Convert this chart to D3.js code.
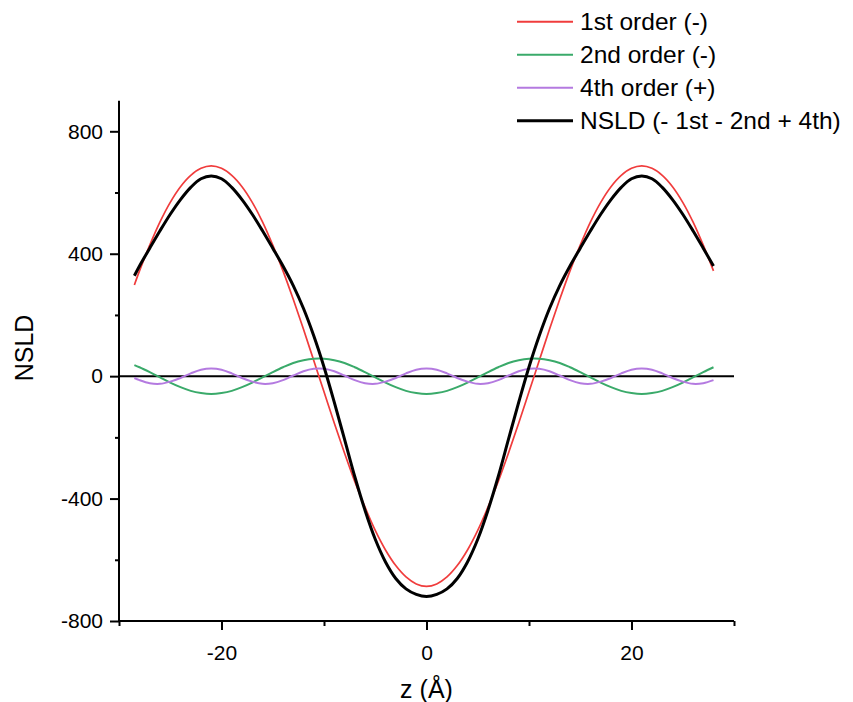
<!DOCTYPE html>
<html>
<head>
<meta charset="utf-8">
<script src="https://cdn.jsdelivr.net/npm/d3@7"></script>
<style>
  html, body { margin: 0; padding: 0; background: #fff; }
  svg { display: block; font-family: "Liberation Sans", Arial, sans-serif; }
</style>
</head>
<body>
<svg id="chart" width="853" height="702"></svg>
<script>
// ---- data ----
const z = [-28.5, -28, -27, -26, -25, -24, -23, -22, -21, -20, -19, -18, -17, -16, -15, -14, -13, -12, -11, -10,
  -9, -8, -7, -6, -5, -4, -3, -2, -1, 0, 1, 2, 3, 4, 5, 6, 7, 8, 9, 10,
  11, 12, 13, 14, 15, 16, 17, 18, 19, 20, 21, 22, 23, 24, 25, 26, 27, 28];

const first = [298, 344, 428, 504, 568, 619, 656, 679, 687, 679, 656, 619, 568, 504, 428, 344, 251, 153, 51, -51,
  -153, -251, -344, -428, -504, -568, -619, -656, -679, -687, -679, -656, -619, -568, -504, -428, -344, -251, -153, -51,
  51, 153, 251, 344, 428, 504, 568, 619, 656, 679, 687, 679, 656, 619, 568, 504, 428, 344];

const second = [36, 29, 13, -4, -21, -36, -48, -55, -58, -55, -48, -36, -21, -4, 13, 29, 43, 52, 57, 57,
  52, 43, 29, 13, -4, -21, -36, -48, -55, -58, -55, -48, -36, -21, -4, 13, 29, 43, 52, 57,
  57, 52, 43, 29, 13, -4, -21, -36, -48, -55, -58, -55, -48, -36, -21, -4, 13, 29];

const fourth = [-6, -13, -23, -25, -18, -6, 9, 21, 25, 21, 9, -6, -18, -25, -23, -13, 2, 16, 24, 24,
  16, 2, -13, -23, -25, -18, -6, 9, 21, 25, 21, 9, -6, -18, -25, -23, -13, 2, 16, 24,
  24, 16, 2, -13, -23, -25, -18, -6, 9, 21, 25, 21, 9, -6, -18, -25, -23, -13];

const nsld = [328, 360, 418, 475, 529, 577, 617, 645, 654, 645, 617, 577, 529, 475, 418, 360, 296, 221, 132, 30,
  -85, -206, -328, -438, -533, -607, -661, -695, -713, -720, -713, -695, -661, -607, -533, -438, -328, -206, -85, 30,
  132, 221, 296, 360, 418, 475, 529, 577, 617, 645, 654, 645, 617, 577, 529, 475, 418, 360];

const seriesNames = ["1st order (-)", "2nd order (-)", "4th order (+)", "NSLD (- 1st - 2nd + 4th)"];
const seriesValues = [first, second, fourth, nsld];
const seriesColors = ["#f03c3c", "#3aaa6a", "#b47ae0", "#000000"];
const seriesWidths = [1.7, 2, 2, 3];

const xDomain = [-30, 30];
const yDomain = [-800, 900];
const xMajorTicks = [-20, 0, 20];
const xMinorTicks = [-30, -10, 10, 30];
const yMajorTicks = [-800, -400, 0, 400, 800];
const yMinorTicks = [-600, -200, 200, 600];
const xLabel = "z (Å)";
const yLabel = "NSLD";

// ---- drawing ----
const svg = d3.select("#chart");
const x = d3.scaleLinear().domain(xDomain).range([119, 734]);
const y = d3.scaleLinear().domain(yDomain).range([621, 100.7]);

// zero line
svg.append("line")
  .attr("x1", x(xDomain[0])).attr("x2", x(xDomain[1]))
  .attr("y1", y(0)).attr("y2", y(0))
  .attr("stroke", "#000").attr("stroke-width", 2);

// series
const line = d3.line().curve(d3.curveCatmullRom.alpha(0.5));
seriesValues.forEach((vals, i) => {
  svg.append("path")
    .attr("d", line(z.map((zz, k) => [x(zz), y(vals[k])])))
    .attr("fill", "none")
    .attr("stroke", seriesColors[i])
    .attr("stroke-width", seriesWidths[i])
    .attr("stroke-linejoin", "round");
});

const fmt = d => String(d);

// x axis
const xAxis = svg.append("g").attr("transform", `translate(0,${y(yDomain[0])})`)
  .call(d3.axisBottom(x).tickValues(xMajorTicks).tickSize(9).tickPadding(15).tickFormat(fmt));
svg.append("g").attr("transform", `translate(0,${y(yDomain[0])})`)
  .call(d3.axisBottom(x).tickValues(xMinorTicks).tickSize(5).tickFormat(""))
  .call(g => g.select(".domain").remove());

// y axis
const yAxis = svg.append("g").attr("transform", `translate(${x(xDomain[0])},0)`)
  .call(d3.axisLeft(y).tickValues(yMajorTicks).tickSize(9).tickPadding(7).tickFormat(fmt));
svg.append("g").attr("transform", `translate(${x(xDomain[0])},0)`)
  .call(d3.axisLeft(y).tickValues(yMinorTicks).tickSize(4).tickFormat(""))
  .call(g => g.select(".domain").remove());

svg.selectAll(".domain").attr("stroke", "#000").attr("stroke-width", 2);
xAxis.select(".domain").attr("d", `M${x(xDomain[0]) - 1},0H${x(xDomain[1])}`);
yAxis.select(".domain").attr("d", `M0,${y(yDomain[0]) + 1}V${y(yDomain[1])}`);

svg.selectAll(".tick line").attr("stroke", "#000").attr("stroke-width", 2);
svg.selectAll(".tick text").attr("font-size", 21).attr("fill", "#000")
  .attr("font-family", "Liberation Sans, Arial, sans-serif");

// axis labels
svg.append("text").attr("x", x(0)).attr("y", 698).attr("text-anchor", "middle")
  .attr("font-size", 25).text(xLabel);
svg.append("text").attr("transform", `translate(33,348) rotate(-90)`)
  .attr("text-anchor", "middle").attr("font-size", 25).text(yLabel);

// legend
const leg = svg.append("g");
seriesNames.forEach((name, i) => {
  const cy = 21.7 + i * 33;
  leg.append("line").attr("x1", 517).attr("x2", 573).attr("y1", cy).attr("y2", cy)
    .attr("stroke", seriesColors[i]).attr("stroke-width", i === 3 ? 3 : 2);
  leg.append("text").attr("x", 580).attr("y", cy).attr("dy", "0.35em")
    .attr("font-size", 24.5).text(name);
});
</script>
</body>
</html>
